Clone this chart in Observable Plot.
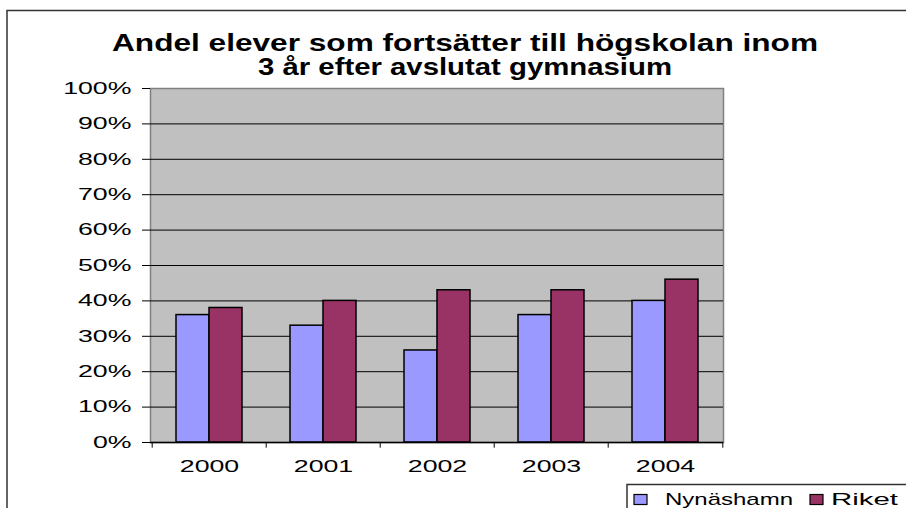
<!DOCTYPE html>
<html>
<head>
<meta charset="utf-8">
<script src="https://cdn.jsdelivr.net/npm/d3@7"></script>
<script src="https://cdn.jsdelivr.net/npm/@observablehq/plot@0.6"></script>
<style>
  html, body { margin: 0; padding: 0; background: #fff; }
  #wrap { position: relative; width: 906px; height: 508px; overflow: hidden; }
  #chart, #overlay { position: absolute; left: 0; top: 0; }
  #overlay { pointer-events: none; }
</style>
</head>
<body>
<div id="wrap">
  <div id="chart"></div>
  <svg id="overlay" width="906" height="508" xmlns="http://www.w3.org/2000/svg"></svg>
</div>
<script>
// ---- data ----
const years = ["2000", "2001", "2002", "2003", "2004"];
const nynashamn = [0.36, 0.33, 0.26, 0.36, 0.40];
const riket = [0.38, 0.40, 0.43, 0.43, 0.46];
const seriesNames = ["Nynäshamn", "Riket"];
const seriesColors = ["#9999FF", "#993366"];
const yTicks = [0, 0.1, 0.2, 0.3, 0.4, 0.5, 0.6, 0.7, 0.8, 0.9, 1.0];
const titleLines = ["Andel elever som fortsätter till högskolan inom", "3 år efter avslutat gymnasium"];

// ---- layout ----
const W = 906, H = 508;
const mL = 150, mR = 183, mT = 88, mB = 66;
const pIn = 0.424, pOut = 0.212;
const plotW = W - mL - mR;
const step = plotW / (years.length - pIn + 2 * pOut);
const bw = step * (1 - pIn);

const nynData = years.map((y, i) => ({year: y, value: nynashamn[i], series: seriesNames[0]}));
const rikData = years.map((y, i) => ({year: y, value: riket[i], series: seriesNames[1]}));

const chart = Plot.plot({
  width: W, height: H,
  marginLeft: mL, marginRight: mR, marginTop: mT, marginBottom: mB,
  style: {fontFamily: "'Liberation Sans', Arial, sans-serif", fontSize: "16px", color: "#000", background: "transparent"},
  x: {domain: years, paddingInner: pIn, paddingOuter: pOut, label: null},
  y: {domain: [0, 1], label: null},
  marks: [
    Plot.frame({fill: "#C0C0C0", stroke: "#808080", strokeWidth: 1.5}),
    Plot.gridY(yTicks.filter(d => d > 0 && d < 1), {stroke: "#000", strokeOpacity: 1, strokeWidth: 1}),
    Plot.barY(nynData, {x: "year", y: "value", fill: seriesColors[0], stroke: "#000", strokeWidth: 1.5, insetLeft: 0, insetRight: bw / 2}),
    Plot.barY(rikData, {x: "year", y: "value", fill: seriesColors[1], stroke: "#000", strokeWidth: 1.5, insetLeft: bw / 2, insetRight: 0}),
    Plot.ruleY([0], {stroke: "#000", strokeWidth: 1.5}),
    Plot.ruleX(years, {x: d => d, dx: -step / 2, y1: 0, y2: -0.016, stroke: "#000", strokeWidth: 1}),
    Plot.ruleX([years[years.length - 1]], {x: d => d, dx: step / 2, y1: 0, y2: -0.016, stroke: "#000", strokeWidth: 1}),
    Plot.axisY(yTicks, {tickFormat: d3.format(".0%"), tickSize: 8, tickPadding: 11, fontSize: 16.5, strokeWidth: 1}),
    Plot.axisX({tickSize: 0, tickPadding: 18, fontSize: 16.5})
  ]
});
document.getElementById("chart").appendChild(chart);

// stretch tick labels horizontally like the original (stretched) picture
chart.querySelectorAll('g[aria-label$="tick label"] text').forEach(t => {
  const tr = t.getAttribute("transform") || "";
  const x = t.getAttribute("x");
  let extra = "";
  if (x != null && !isNaN(parseFloat(x))) { extra = ` translate(${parseFloat(x)},0)`; t.removeAttribute("x"); }
  t.setAttribute("transform", `${tr}${extra} scale(1.62,1)`);
});

// ---- overlay: chart border, title, legend ----
const ov = d3.select("#overlay");
ov.append("path").attr("d", "M7,508V10.5H906").attr("fill", "none").attr("stroke", "#333").attr("stroke-width", 1.5);

const tFont = "'Liberation Sans', Arial, sans-serif";
ov.append("text").attr("x", 112).attr("y", 51).attr("font-family", tFont).attr("font-weight", "bold").attr("font-size", 23)
  .attr("textLength", 706).attr("lengthAdjust", "spacingAndGlyphs").text(titleLines[0]);
ov.append("text").attr("x", 258).attr("y", 75).attr("font-family", tFont).attr("font-weight", "bold").attr("font-size", 23)
  .attr("textLength", 414).attr("lengthAdjust", "spacingAndGlyphs").text(titleLines[1]);

const lg = ov.append("g");
lg.append("rect").attr("x", 627).attr("y", 484.5).attr("width", 300).attr("height", 40).attr("fill", "#fff").attr("stroke", "#333").attr("stroke-width", 1.5);
const legendItems = [
  {sx: 634, tx: 665, tl: 128},
  {sx: 810, tx: 831, tl: 67}
];
legendItems.forEach((it, i) => {
  lg.append("rect").attr("x", it.sx).attr("y", 494.5).attr("width", 13).attr("height", 10).attr("fill", seriesColors[i]).attr("stroke", "#000").attr("stroke-width", 1.2);
  lg.append("text").attr("x", it.tx).attr("y", 505).attr("font-family", tFont).attr("font-size", 17)
    .attr("textLength", it.tl).attr("lengthAdjust", "spacingAndGlyphs").text(seriesNames[i]);
});
</script>
</body>
</html>
